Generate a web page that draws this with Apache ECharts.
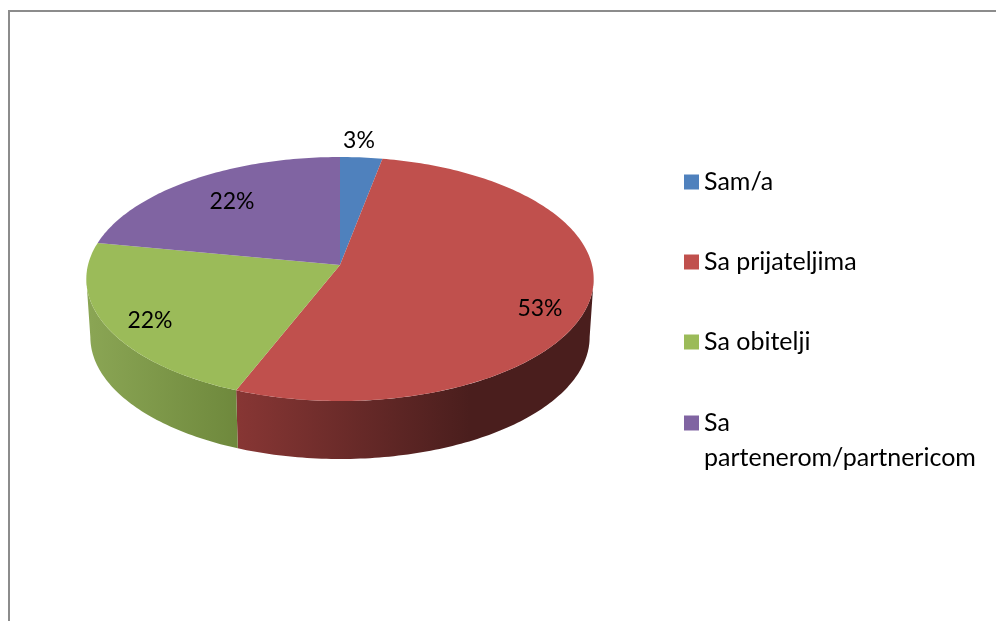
<!DOCTYPE html>
<html>
<head>
<meta charset="utf-8">
<style>html,body{margin:0;padding:0;background:#fff}#c{width:996px;height:621px}</style>
<script src="https://cdn.jsdelivr.net/npm/echarts@6/dist/echarts.min.js"></script>
</head>
<body>
<div id="c"></div>
<script>
const categories = ['Sam/a', 'Sa prijateljima', 'Sa obitelji', 'Sa partenerom/partnericom'];
const shareValues = [3, 53, 22, 22];
const topColors = ['#4f81bd', '#c0504d', '#9bbb59', '#8064a2'];
// styling and layout only
const labelSpots = [[359, 141], [540, 309], [150, 321], [232, 202]];
const wallFills = [
  null,
  [238, 470, '#873634', '#4a1e1d'],
  [90, 240, '#8aa554', '#6e883c'],
  null
];
const FONT = 'Lato, "Open Sans", sans-serif';
const CX = 340, CY = 265, R = 252, A = 120.4, K = 0.1148;
const WALL_DY = 58, WALL_R = 248;
const total = shareValues.reduce((a, b) => a + b, 0);

function project(deg, radius, dy) {
  const t = deg * Math.PI / 180, u = Math.sin(t), v = Math.cos(t), w = 1 + K * v;
  return [CX + radius * u / w, CY + dy - A * v / w];
}
function arc(from, to, radius, dy) {
  const pts = [], n = Math.max(2, Math.ceil(to - from));
  for (let i = 0; i <= n; i++) pts.push(project(from + (to - from) * i / n, radius, dy));
  return pts;
}
function renderSlice(index) {
  return function (params, api) {
    const value = api.value(0);
    let before = 0;
    for (let i = 0; i < index; i++) before += shareValues[i];
    const a0 = before / total * 360, a1 = (before + value) / total * 360;
    const children = [];
    // the wall is visible only between the two points where the rim turns back
    const wa = Math.max(a0, 96.6), wb = Math.min(a1, 263.4);
    if (wallFills[index] && wb > wa) {
      const g = wallFills[index];
      children.push({
        type: 'polygon', z2: 1,
        shape: { points: arc(wa, wb, R, 0).concat(arc(wa, wb, WALL_R, WALL_DY).reverse()) },
        style: { fill: new echarts.graphic.LinearGradient(g[0], 0, g[1], 0, [{ offset: 0, color: g[2] }, { offset: 1, color: g[3] }], true) }
      });
    }
    children.push({
      type: 'polygon', z2: 2,
      shape: { points: [[CX, CY]].concat(arc(a0, a1, R, 0)) },
      style: { fill: topColors[index] }
    });
    children.push({
      type: 'text', z2: 3,
      style: {
        text: value + '%', x: labelSpots[index][0], y: labelSpots[index][1],
        fill: '#000', font: '23px ' + FONT, textAlign: 'center', textVerticalAlign: 'middle'
      }
    });
    return { type: 'group', children };
  };
}
const legendText = { fontFamily: FONT, fontSize: 25, color: '#000', lineHeight: 35 };
const chart = echarts.init(document.getElementById('c'), null, { renderer: 'canvas' });
chart.setOption({
  animation: false,
  backgroundColor: '#fff',
  legend: [
    { data: categories.slice(0, 3), orient: 'vertical', left: 684, top: 164.5, padding: 0, itemGap: 45,
      itemWidth: 15, itemHeight: 15, icon: 'rect', selectedMode: false, textStyle: legendText },
    { data: categories.slice(3), orient: 'vertical', left: 684, top: 370.5, padding: 0,
      itemWidth: 15, itemHeight: 15, icon: 'rect', selectedMode: false, textStyle: legendText,
      formatter: n => '\n' + n.replace(' ', '\n') }
  ],
  graphic: [
    { type: 'rect', shape: { x: 8, y: 10, width: 988, height: 2 }, style: { fill: '#8c8c8c' }, silent: true },
    { type: 'rect', shape: { x: 8, y: 10, width: 2, height: 611 }, style: { fill: '#8c8c8c' }, silent: true }
  ],
  series: categories.map((name, i) => ({
    type: 'custom', name, coordinateSystem: 'none', silent: true,
    itemStyle: { color: topColors[i] },
    data: [[shareValues[i]]],
    renderItem: renderSlice(i)
  }))
});
</script>
</body>
</html>
